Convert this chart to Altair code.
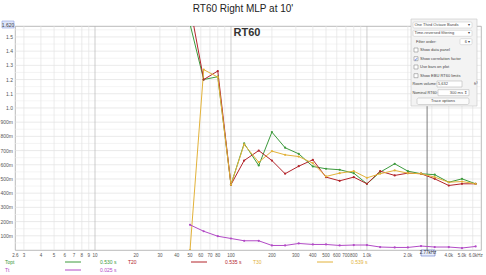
import altair as alt
import pandas as pd

# ---------------- data ----------------
freqs = [50, 63, 80, 100, 125, 160, 200, 250, 315, 400, 500, 630, 800, 1000,
         1250, 1600, 2000, 2500, 3150, 4000, 5000, 6300]
topt = [1.59, 1.20, 1.22, 0.46, 0.75, 0.595, 0.83, 0.72, 0.677, 0.588, 0.572, 0.565,
        0.541, 0.466, 0.548, 0.607, 0.555, 0.537, 0.530, 0.477, 0.501, 0.466]
t20 = [1.72, 1.20, 1.26, 0.46, 0.63, 0.70, 0.63, 0.537, 0.59, 0.635, 0.513, 0.487,
       0.513, 0.466, 0.555, 0.525, 0.541, 0.537, 0.501, 0.454, 0.466, 0.466]
t30 = [0.0, 1.27, 1.217, 0.46, 0.743, 0.618, 0.696, 0.67, 0.658, 0.611, 0.518, 0.541,
       0.555, 0.508, 0.537, 0.56, 0.541, 0.537, 0.513, 0.477, 0.482, 0.466]
tt = [0.177, 0.132, 0.097, 0.081, 0.065, 0.065, 0.032, 0.032, 0.046, 0.039, 0.039, 0.032,
      0.035, 0.035, 0.021, 0.018, 0.018, 0.028, 0.021, 0.021, 0.014, 0.025]

series_names = ["Topt", "T20", "T30", "Tt"]
series_colors = ["#3d9a3d", "#b3242b", "#e2b23a", "#b24ac6"]
series_avgs = ["0.530 s", "0.535 s", "0.539 s", "0.025 s"]
series_values = [topt, t20, t30, tt]

x_tick_vals = [2.6, 3, 4, 5, 6, 7, 8, 9, 10, 20, 30, 40, 50, 60, 70, 80, 100,
               200, 300, 400, 500, 600, 700, 800, 1000, 2000, 4000, 5000]
x_tick_labels = ["2.6", "3", "4", "5", "6", "7", "8", "9", "10", "20", "30", "40", "50",
                 "60", "70", "80", "100", "200", "300", "400", "500", "600", "700", "800",
                 "1.0k", "2.0k", "4.0k", "5.0k"]
x_last_tick = 6000
x_last_label = "6.0kHz"
y_tick_vals = [0.1, 0.2, 0.3, 0.4, 0.5, 0.6, 0.7, 0.8, 0.9, 1.0, 1.1, 1.2, 1.3, 1.4, 1.5]
y_tick_labels = ["100m", "200m", "300m", "400m", "500m", "600m", "700m", "800m", "900m",
                 "1.0", "1.1", "1.2", "1.3", "1.4", "1.5"]

cursor_freq = 2770
cursor_label = "2.77kHz"
top_value_label = "1.620"
title_text = "RT60 Right MLP at 10'"

# ---------------- layout ----------------
W, H = 466, 224
FONT = "Liberation Sans"
XMIN, XMAX = 2.58, 6900
YMAX = 1.577

xs = alt.Scale(type="log", domain=[XMIN, XMAX])
ys = alt.Scale(domain=[0, YMAX])

rows = []
for name, vals in zip(series_names, series_values):
    for f, v in zip(freqs, vals):
        rows.append({"freq": f, "rt": v, "series": name})
df = pd.DataFrame(rows)

grid_x = []
for dec in [1, 10, 100, 1000]:
    for m in range(1, 10):
        v = m * dec
        if XMIN <= v <= XMAX:
            grid_x.append({"f": v, "major": m == 1})
gx = pd.DataFrame(grid_x)
gy = pd.DataFrame({"v": [round(i * 0.05, 3) for i in range(1, 32)]})
gy["major"] = [(round(v * 100) % 10 == 0) for v in gy["v"]]

color_scale = alt.Scale(domain=series_names, range=series_colors)

grid_y_layer = alt.Chart(gy).mark_rule(strokeWidth=0.6).encode(
    y=alt.Y("v:Q", scale=ys, axis=None),
    x=alt.value(0), x2=alt.value(W),
    color=alt.condition("datum.major", alt.value("#dcdcdc"), alt.value("#ececec")),
)
grid_x_layer = alt.Chart(gx).mark_rule(strokeWidth=0.7).encode(
    x=alt.X("f:Q", scale=xs, axis=None),
    y=alt.value(0), y2=alt.value(H),
    color=alt.condition("datum.major", alt.value("#b8b8b8"), alt.value("#e2e2e2")),
)
cursor_layer = alt.Chart(pd.DataFrame({"f": [cursor_freq]})).mark_rule(
    color="#6e6e6e", strokeWidth=0.9).encode(
    x=alt.X("f:Q", scale=xs, axis=None), y=alt.value(0), y2=alt.value(H))

lines = alt.Chart(df).mark_line(strokeWidth=1, clip=True).encode(
    x=alt.X("freq:Q", scale=xs, axis=None),
    y=alt.Y("rt:Q", scale=ys, axis=None),
    color=alt.Color("series:N", scale=color_scale, legend=None),
    detail="series:N",
)
points = alt.Chart(df).mark_point(filled=True, size=5, clip=True, opacity=1).encode(
    x=alt.X("freq:Q", scale=xs, axis=None),
    y=alt.Y("rt:Q", scale=ys, axis=None),
    color=alt.Color("series:N", scale=color_scale, legend=None),
)

xlab = alt.Chart(pd.DataFrame({"f": x_tick_vals, "t": x_tick_labels})).mark_text(
    fontSize=4.5, font=FONT, color="#555", baseline="top").encode(
    x=alt.X("f:Q", scale=xs, axis=None), y=alt.value(H + 3), text="t:N")
xlab_last = alt.Chart(pd.DataFrame({"f": [x_last_tick], "t": [x_last_label]})).mark_text(
    fontSize=4.5, font=FONT, color="#555", baseline="top", align="left", dx=-4).encode(
    x=alt.X("f:Q", scale=xs, axis=None), y=alt.value(H + 3), text="t:N")
ylab = alt.Chart(pd.DataFrame({"v": y_tick_vals, "t": y_tick_labels})).mark_text(
    fontSize=5, font=FONT, color="#555", align="right", baseline="middle").encode(
    y=alt.Y("v:Q", scale=ys, axis=None), x=alt.value(-2), text="t:N")

one = pd.DataFrame({"a": [0]})


def txt(s, x, y, size=5, color="#444", align="left", weight="normal", baseline="middle"):
    return alt.Chart(one).mark_text(text=s, fontSize=size, font=FONT, color=color,
                                    align=align, fontWeight=weight, baseline=baseline).encode(
        x=alt.value(x), y=alt.value(y))


def box(x1, y1, x2, y2, fill="#ffffff", stroke="#bbbbbb", sw=0.6, r=0):
    return alt.Chart(one).mark_rect(fill=fill, stroke=stroke, strokeWidth=sw,
                                    cornerRadius=r).encode(
        x=alt.value(x1), x2=alt.value(x2), y=alt.value(y1), y2=alt.value(y2))


def seg(x1, x2, y, color, sw=1):
    return alt.Chart(one).mark_rule(color=color, strokeWidth=sw).encode(
        x=alt.value(x1), x2=alt.value(x2), y=alt.value(y))


OX, OY = 15, 26  # plot origin in page coords
PF = 4  # panel font size
extras = []
extras.append(txt(title_text, 243 - OX, 9 - OY, size=10, color="#222", align="center"))
extras.append(txt("RT60", 247 - OX, 26 - OY + 0.5, size=11, color="#333", align="center",
                  weight="bold", baseline="top"))
extras.append(box(428 - 7 - OX, 250 - OY, 428 + 7 - OX, 256 - OY, fill="#e8eefc", stroke="#5b73c8"))
extras.append(txt(cursor_label, 428 - OX, 253 - OY, size=4.5, color="#333", align="center"))
extras.append(box(2 - OX, 21 - OY, 14 - OX, 28 - OY, fill="#dfe6fb", stroke="#8fa2e0"))
extras.append(txt(top_value_label, 8 - OX, 24.5 - OY, size=5, color="#444", align="center"))

leg_pos = [(5, 65, 100, 262), (128, 191, 225, 262), (253, 317, 351, 262), (5, 65, 100, 270)]
for (nx, lx, vx, yy), name, col, avg in zip(leg_pos, series_names, series_colors, series_avgs):
    extras.append(txt(name, nx - OX, yy - OY, size=5, color=col))
    extras.append(seg(lx - OX, lx + 16 - OX, yy - OY, col))
    extras.append(txt(avg, vx - OX, yy - OY, size=5, color=col))

# control panel (REW overlay)
px1, px2 = 411, 477
extras.append(box(px1 - OX, 19 - OY, px2 - OX, 106 - OY, fill="#f3f3f3", stroke="#c8c8c8"))
dropdowns = [("One Third Octave Bands", 25), ("Time-reversed filtering", 33.3)]
for s, yy in dropdowns:
    extras.append(box(px1 + 2 - OX, yy - 3 - OY, px2 - 5 - OX, yy + 3 - OY, fill="#ffffff", stroke="#cccccc", r=1))
    extras.append(txt(s, px1 + 3.5 - OX, yy - OY, size=PF))
    extras.append(txt("▾", px2 - 8 - OX, yy - OY, size=PF, align="center"))
extras.append(txt("Filter order:", px1 + 5 - OX, 41.7 - OY, size=PF))
extras.append(box(px2 - 17 - OX, 38.7 - OY, px2 - 5 - OX, 44.7 - OY, fill="#ffffff", stroke="#cccccc", r=1))
extras.append(txt("6  ▾", px2 - 7 - OX, 41.7 - OY, size=PF, align="right"))
checks = [("Show data panel", 50, False), ("Show correlation factor", 58.7, True),
          ("Use bars on plot", 67, False), ("Show EBU RT60 limits", 75.7, False)]
for s, yy, on in checks:
    extras.append(box(px1 + 3 - OX, yy - 2 - OY, px1 + 7 - OX, yy + 2 - OY,
                      fill="#ffffff", stroke="#8d8d8d"))
    if on:
        extras.append(txt("✓", px1 + 5 - OX, yy - OY, size=5, color="#2a5bd7", align="center"))
    extras.append(txt(s, px1 + 9 - OX, yy - OY, size=PF))
extras.append(txt("Room volume:", px1 + 1.5 - OX, 84 - OY, size=3.8))
extras.append(box(px1 + 26 - OX, 81 - OY, px1 + 51 - OX, 87 - OY, fill="#ffffff", stroke="#bbbbbb"))
extras.append(txt("5,632", px1 + 27 - OX, 84 - OY, size=PF))
extras.append(txt("ft³", px2 + 0.5 - OX, 84 - OY, size=PF, align="right"))
extras.append(txt("Nominal RT60:", px1 + 1.5 - OX, 92.7 - OY, size=3.8))
extras.append(box(px1 + 27 - OX, 89.7 - OY, px1 + 58 - OX, 95.7 - OY, fill="#ffffff", stroke="#bbbbbb"))
extras.append(txt("300 ms  ⇕", px1 + 56 - OX, 92.7 - OY, size=PF, align="right"))
extras.append(box(px1 + 6 - OX, 98 - OY, px2 - 8 - OX, 104.5 - OY, fill="#fbfbfb", stroke="#bdbdbd", r=1.5))
extras.append(txt("Trace options", (px1 + px2) / 2 - 1 - OX, 101.3 - OY, size=PF, align="center"))

chart = alt.layer(
    grid_y_layer, grid_x_layer, cursor_layer, lines, points, xlab, xlab_last, ylab, *extras
).properties(
    width=W, height=H,
    autosize=alt.AutoSizeParams(type="none"),
    padding={"left": OX, "top": OY, "right": 486 - OX - W, "bottom": 275 - OY - H},
    background="#ffffff",
).configure_view(stroke="#a8a8a8", strokeWidth=0.8)

chart.save("out.html", embed_options={"renderer": "svg", "actions": False})
